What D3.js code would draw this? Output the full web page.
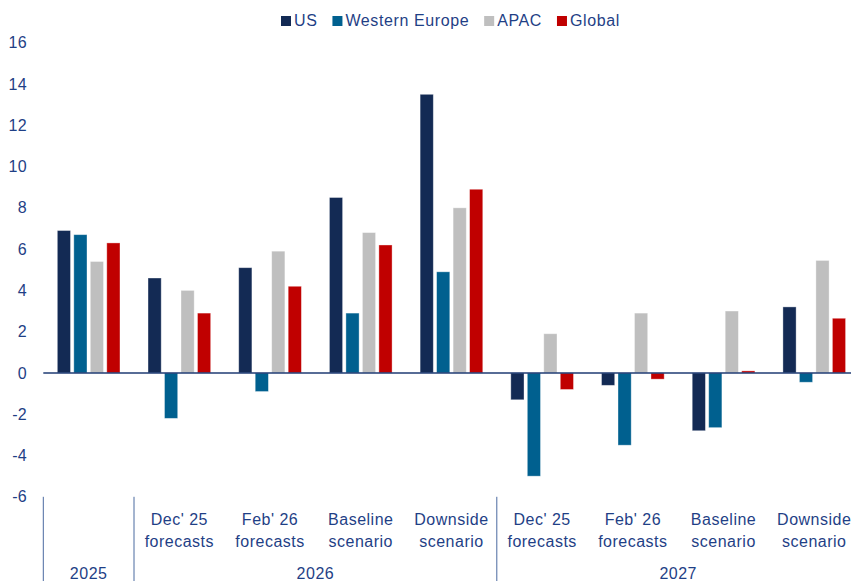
<!DOCTYPE html>
<html lang="en">
<head>
    <meta charset="UTF-8">
    <title>Growth scenarios by region</title>
    <style>
        body {
            margin: 0;
            padding: 0;
            background-color: #ffffff;
            overflow: hidden;
        }
        svg {
            display: block;
            font-family: "Liberation Sans", Arial, sans-serif;
        }
    </style>
    <script src="https://d3js.org/d3.v7.min.js"></script>
</head>
<body>
    <script>
        const width = 851;
        const height = 581;

        // data
        const series = ["US", "Western Europe", "APAC", "Global"];
        const seriesColors = ["#132a54", "#00608f", "#bfbfbf", "#c00000"];
        const categoryLine1 = ["", "Dec' 25", "Feb' 26", "Baseline", "Downside", "Dec' 25", "Feb' 26", "Baseline", "Downside"];
        const categoryLine2 = ["", "forecasts", "forecasts", "scenario", "scenario", "forecasts", "forecasts", "scenario", "scenario"];
        const years = ["2025", "2026", "2027"];
        const yearSpans = [1, 4, 4];
        const usValues = [6.9, 4.6, 5.1, 8.5, 13.5, -1.3, -0.6, -2.8, 3.2];
        const weValues = [6.7, -2.2, -0.9, 2.9, 4.9, -5.0, -3.5, -2.65, -0.45];
        const apacValues = [5.4, 4.0, 5.9, 6.8, 8.0, 1.9, 2.9, 3.0, 5.45];
        const globalValues = [6.3, 2.9, 4.2, 6.2, 8.9, -0.8, -0.3, 0.1, 2.65];
        const yTicks = [-6, -4, -2, 0, 2, 4, 6, 8, 10, 12, 14, 16];

        const allValues = [usValues, weValues, apacValues, globalValues];
        const textColor = "#1f3f86";
        const lineColor = "#1f3b73";

        const svg = d3.select("body").append("svg")
            .attr("width", width)
            .attr("height", height);

        const groupIdx = d3.range(categoryLine1.length);

        // plot runs past the right edge, like the reference
        const x0 = d3.scaleBand()
            .domain(groupIdx)
            .range([43.3, 859.6])
            .paddingInner(0)
            .paddingOuter(0);

        const x1 = d3.scaleBand()
            .domain(series)
            .range([0, x0.bandwidth()])
            .paddingInner(0.2)
            .paddingOuter(0.85);

        const y = d3.scaleLinear()
            .domain([-6, 16])
            .range([496.8, 42.7]);

        // y axis labels (plain hyphen for negatives)
        const yAxis = d3.axisLeft(y)
            .tickValues(yTicks)
            .tickSize(0)
            .tickPadding(0)
            .tickFormat(d => String(d));

        const yG = svg.append("g")
            .attr("transform", "translate(27,0)")
            .call(yAxis);
        yG.select(".domain").remove();
        yG.selectAll("text")
            .attr("fill", textColor)
            .style("font-size", "16px")
            .style("letter-spacing", "0.3px")
            .style("font-family", "\"Liberation Sans\", Arial, sans-serif");

        // bars
        const rows = [];
        groupIdx.forEach(function(i) {
            series.forEach(function(s, j) {
                rows.push({ group: i, series: s, value: allValues[j][i], color: seriesColors[j] });
            });
        });

        svg.append("g")
            .selectAll("rect")
            .data(rows)
            .enter().append("rect")
            .attr("x", d => x0(d.group) + x1(d.series))
            .attr("y", d => y(Math.max(0, d.value)))
            .attr("width", x1.bandwidth())
            .attr("height", d => Math.abs(y(d.value) - y(0)))
            .attr("fill", d => d.color)
            .attr("stroke", "#ffffff")
            .attr("stroke-opacity", 0.45)
            .attr("stroke-width", 0.8);

        // zero line
        svg.append("line")
            .attr("x1", x0.range()[0])
            .attr("x2", x0.range()[1])
            .attr("y1", y(0))
            .attr("y2", y(0))
            .attr("stroke", lineColor)
            .attr("stroke-width", 1.5);

        // category labels
        const catG = svg.append("g")
            .attr("fill", textColor)
            .style("font-size", "16px")
            .style("letter-spacing", "0.5px")
            .attr("text-anchor", "middle");

        catG.selectAll("text.l1")
            .data(groupIdx)
            .enter().append("text")
            .attr("class", "l1")
            .attr("x", i => x0(i) + x0.bandwidth() / 2)
            .attr("y", 525)
            .text(i => categoryLine1[i]);

        catG.selectAll("text.l2")
            .data(groupIdx)
            .enter().append("text")
            .attr("class", "l2")
            .attr("x", i => x0(i) + x0.bandwidth() / 2)
            .attr("y", 547)
            .text(i => categoryLine2[i]);

        // year labels and separators
        let start = 0;
        const yearBlocks = years.map(function(yr, k) {
            const b = { year: yr, first: start, last: start + yearSpans[k] - 1 };
            start += yearSpans[k];
            return b;
        });

        catG.selectAll("text.yr")
            .data(yearBlocks)
            .enter().append("text")
            .attr("class", "yr")
            .attr("x", b => (x0(b.first) + x0(b.last) + x0.bandwidth()) / 2)
            .attr("y", 579)
            .text(b => b.year);

        const sepX = [x0(0)].concat(yearBlocks.map(b => x0(b.last) + x0.bandwidth()));
        svg.append("g")
            .selectAll("line")
            .data(sepX)
            .enter().append("line")
            .attr("x1", d => d)
            .attr("x2", d => d)
            .attr("y1", y(-6))
            .attr("y2", height)
            .attr("stroke", "#4a6aa0")
            .attr("stroke-width", 1);

        // legend
        const legend = svg.append("g")
            .attr("transform", "translate(281,0)");
        let lx = 0;
        series.forEach(function(s, j) {
            legend.append("rect")
                .attr("x", lx)
                .attr("y", 16)
                .attr("width", 10)
                .attr("height", 10)
                .attr("fill", seriesColors[j]);
            const t = legend.append("text")
                .attr("x", lx + 13)
                .attr("y", 26)
                .attr("fill", textColor)
                .style("font-size", "16px")
                .style("letter-spacing", "0.6px")
                .text(s);
            lx += 13 + t.node().getComputedTextLength() + 15;
        });
    </script>
</body>
</html>
